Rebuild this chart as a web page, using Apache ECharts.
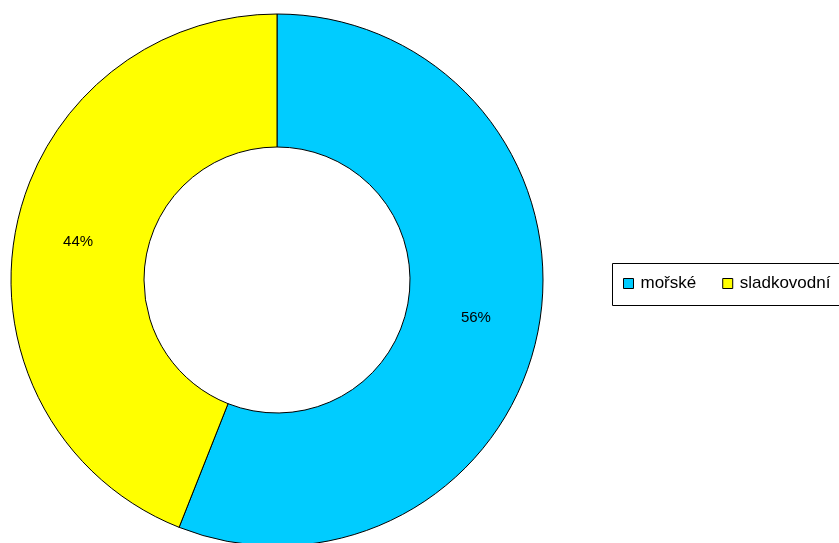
<!DOCTYPE html>
<html>
<head>
<meta charset="utf-8">
<script src="https://cdn.jsdelivr.net/npm/echarts@6/dist/echarts.min.js"></script>
<style>
  html, body { margin: 0; padding: 0; background: #fff; }
  #chart { width: 839px; height: 543px; }
</style>
</head>
<body>
<div id="chart"></div>
<script>
// Share of species by water type
const categories = ['mořské', 'sladkovodní'];
const shares = [56, 44];
const colors = ['#00CCFF', '#FFFF00'];

const FONT = '"Liberation Sans", Arial, sans-serif';

const chart = echarts.init(document.getElementById('chart'), null, { renderer: 'canvas' });

chart.setOption({
  animation: false,
  backgroundColor: '#ffffff',
  graphic: [
    {
      // legend frame
      type: 'rect',
      left: 612,
      top: 263,
      shape: { width: 240, height: 42 },
      style: { fill: '#ffffff', stroke: '#000000', lineWidth: 1 },
      z: 0
    }
  ],
  legend: {
    data: categories,
    orient: 'horizontal',
    left: 623,
    top: 275,
    padding: 0,
    itemWidth: 10,
    itemHeight: 10,
    itemGap: 26,
    icon: 'rect',
    selectedMode: false,
    itemStyle: { borderColor: '#000000', borderWidth: 1 },
    textStyle: { fontFamily: FONT, fontSize: 17, color: '#000000', padding: [0, 0, 0, 2] },
    z: 5
  },
  series: [
    {
      type: 'pie',
      center: [277, 280],
      radius: [133, 266],
      startAngle: 90,
      clockwise: true,
      silent: true,
      avoidLabelOverlap: false,
      itemStyle: { borderColor: '#000000', borderWidth: 1 },
      label: {
        show: true,
        position: 'inside',
        formatter: p => p.value + '%',
        fontFamily: FONT,
        fontSize: 15,
        color: '#000000'
      },
      labelLine: { show: false },
      emphasis: { disabled: true },
      data: categories.map((name, i) => ({
        name: name,
        value: shares[i],
        itemStyle: { color: colors[i] }
      }))
    }
  ]
});
</script>
</body>
</html>
